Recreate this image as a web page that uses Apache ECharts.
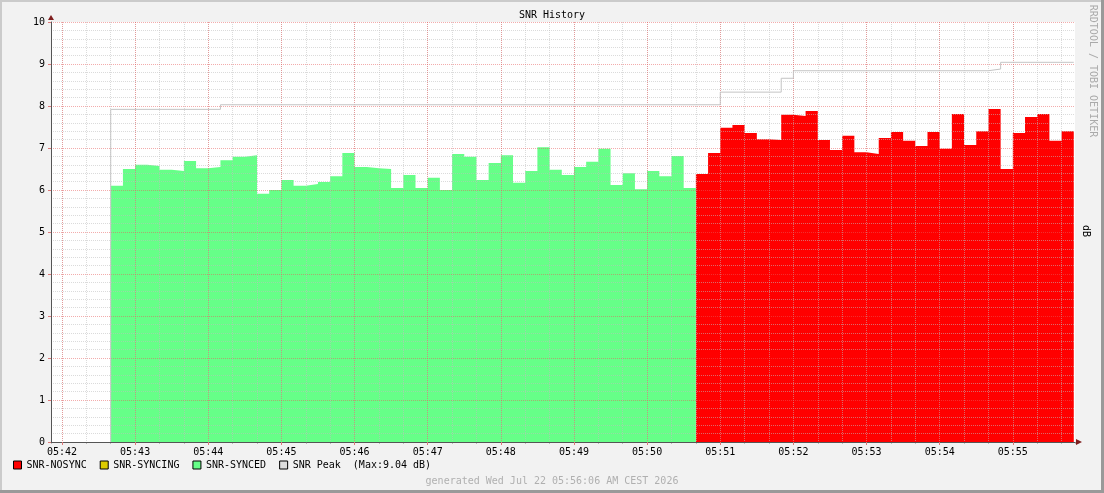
<!DOCTYPE html>
<html>
<head>
<meta charset="utf-8">
<title>SNR History</title>
<script src="https://cdn.jsdelivr.net/npm/echarts@6/dist/echarts.min.js"></script>
<style>
  html, body { margin: 0; padding: 0; background: #f2f2f2; }
  #snr-chart { width: 1104px; height: 493px; }
</style>
</head>
<body>
<div id="snr-chart"></div>
<script>
"use strict";

// seconds after 05:42:00, one sample every 10 s
var firstSample = 40;
var sampleStep = 10;

var syncedValues = [
  6.10, 6.50, 6.60, 6.57, 6.48, 6.45, 6.69, 6.52, 6.55, 6.71,
  6.79, 6.83, 5.91, 6.00, 6.24, 6.10, 6.14, 6.19, 6.33, 6.88,
  6.55, 6.52, 6.50, 6.05, 6.36, 6.05, 6.29, 6.00, 6.86, 6.79,
  6.24, 6.64, 6.83, 6.17, 6.45, 7.02, 6.48, 6.36, 6.55, 6.67,
  6.98, 6.12, 6.40, 6.02, 6.45, 6.33, 6.81, 6.05
];
var syncingValues = [];
var nosyncValues = [
  6.38, 6.88, 7.48, 7.55, 7.36, 7.21, 7.19, 7.79, 7.76, 7.88,
  7.19, 6.95, 7.29, 6.90, 6.86, 7.24, 7.38, 7.17, 7.05, 7.38,
  6.98, 7.81, 7.07, 7.40, 7.93, 6.50, 7.36, 7.74, 7.81, 7.17,
  7.40
];

// peak steps: time it changes (s after 05:42:00) and new level
var peakTimes = [40, 130, 540, 590, 600, 760, 770];
var peakValues = [7.92, 8.03, 8.33, 8.66, 8.84, 8.88, 9.04];

var yTicks = [0, 1, 2, 3, 4, 5, 6, 7, 8, 9, 10];
var startMinute = 42;

var font = 'DejaVu Sans Mono';
var majorGrid = 'rgba(232,90,90,0.5)';
var minorGrid = 'rgba(190,190,190,0.55)';

// build step points, last value is held for one more sample
function stepData(t0, values) {
  var pts = values.map(function (v, i) { return [t0 + i * sampleStep, v]; });
  if (values.length) {
    pts.push([t0 + values.length * sampleStep, values[values.length - 1]]);
  }
  return pts;
}

var syncedStart = firstSample;
var nosyncStart = firstSample + syncedValues.length * sampleStep;
var lastTime = nosyncStart + nosyncValues.length * sampleStep;

var peakData = [[peakTimes[0], 0]];
peakTimes.forEach(function (t, i) { peakData.push([t, peakValues[i]]); });
peakData.push([lastTime, peakValues[peakValues.length - 1]]);
var peakMax = Math.max.apply(null, peakValues);

function pad(n) { return (n < 10 ? '0' : '') + n; }

echarts.init(document.getElementById('snr-chart'))
.setOption({
  animation: false,
  backgroundColor: '#f2f2f2',
  textStyle: {
    fontFamily: font,
    fontSize: 10,
    color: '#000'
  },
  title: {
    text: 'SNR History',
    left: 'center',
    top: 6,
    padding: 4,
    textStyle: {
      fontFamily: font,
      fontSize: 10,
      fontWeight: 'normal',
      color: '#000'
    }
  },
  legend: {
    left: 13,
    top: 460,
    padding: 0,
    icon: 'rect',
    itemWidth: 8,
    itemHeight: 8,
    itemGap: 13,
    textStyle: {
      fontFamily: font,
      fontSize: 10,
      color: '#000'
    },
    formatter: function (name) {
      return name === 'SNR Peak' ? name + '  (Max:' + peakMax.toFixed(2) + ' dB)' : name;
    },
    data: [
      { name: 'SNR-NOSYNC', itemStyle: { color: '#ff0000', borderColor: '#000', borderWidth: 1 } },
      { name: 'SNR-SYNCING', itemStyle: { color: '#ddcc00', borderColor: '#000', borderWidth: 1 } },
      { name: 'SNR-SYNCED', itemStyle: { color: '#66ff88', borderColor: '#000', borderWidth: 1 } },
      { name: 'SNR Peak', itemStyle: { color: '#dddddd', borderColor: '#000', borderWidth: 1 } }
    ]
  },
  grid: {
    left: 51,
    right: 29,
    top: 22,
    bottom: 51,
    show: true,
    backgroundColor: '#ffffff',
    borderWidth: 0
  },
  xAxis: [
    {
      type: 'value',
      min: -9,
      max: 831,
      minInterval: 60,
      maxInterval: 60,
      z: 5,
      axisLine: { onZero: false, lineStyle: { color: '#555', width: 1 } },
      axisTick: { show: true, length: 3, lineStyle: { color: '#d77' } },
      axisLabel: {
        margin: 5,
        showMinLabel: false,
        showMaxLabel: false,
        fontFamily: font,
        fontSize: 10,
        color: '#000',
        formatter: function (v) { return '05:' + pad(startMinute + Math.round(v / 60)); }
      },
      splitLine: {
        show: true,
        showMinLine: false,
        showMaxLine: false,
        lineStyle: { color: majorGrid, type: [1, 1], width: 1 }
      }
    },
    {
      type: 'value',
      position: 'bottom',
      min: -9,
      max: 831,
      minInterval: 20,
      maxInterval: 20,
      z: 4,
      axisLine: { show: false, onZero: false },
      axisTick: { show: true, length: 2, lineStyle: { color: '#bbb' } },
      axisLabel: { show: false },
      splitLine: {
        show: true,
        showMinLine: false,
        showMaxLine: false,
        lineStyle: { color: minorGrid, type: [1, 1], width: 1 }
      }
    }
  ],
  yAxis: {
    type: 'value',
    min: yTicks[0],
    max: yTicks[yTicks.length - 1],
    interval: 1,
    z: 5,
    axisLine: { show: true, onZero: false, lineStyle: { color: '#555', width: 1 } },
    axisTick: { show: true, length: 3, lineStyle: { color: '#d77' } },
    axisLabel: {
      margin: 6,
      fontFamily: font,
      fontSize: 10,
      color: '#000'
    },
    splitLine: {
      show: true,
      lineStyle: { color: majorGrid, type: [1, 1], width: 1 }
    },
    minorTick: { show: false, splitNumber: 5 },
    minorSplitLine: {
      show: true,
      lineStyle: { color: minorGrid, type: [1, 1], width: 1 }
    }
  },
  series: [
    {
      name: 'SNR-NOSYNC',
      type: 'line',
      step: 'end',
      symbol: 'none',
      color: '#ff0000',
      lineStyle: { width: 0 },
      areaStyle: { color: '#ff0000', opacity: 1 },
      data: stepData(nosyncStart, nosyncValues),
      z: 2
    },
    {
      name: 'SNR-SYNCING',
      type: 'line',
      step: 'end',
      symbol: 'none',
      color: '#ddcc00',
      lineStyle: { width: 0 },
      areaStyle: { color: '#ddcc00', opacity: 1 },
      data: stepData(firstSample, syncingValues),
      z: 2
    },
    {
      name: 'SNR-SYNCED',
      type: 'line',
      step: 'end',
      symbol: 'none',
      color: '#66ff88',
      lineStyle: { width: 0 },
      areaStyle: { color: '#66ff88', opacity: 1 },
      data: stepData(syncedStart, syncedValues),
      z: 2
    },
    {
      name: 'SNR Peak',
      type: 'line',
      step: 'end',
      symbol: 'none',
      color: '#c4c4c4',
      lineStyle: { width: 1, color: '#c4c4c4' },
      data: peakData,
      z: 6
    }
  ],
  graphic: [
    // frame shading
    { type: 'rect', shape: { x: 0, y: 0, width: 1104, height: 2 }, style: { fill: '#cbcbcb' }, silent: true },
    { type: 'rect', shape: { x: 0, y: 0, width: 2, height: 493 }, style: { fill: '#cbcbcb' }, silent: true },
    { type: 'rect', shape: { x: 0, y: 490, width: 1104, height: 3 }, style: { fill: '#999999' }, silent: true },
    { type: 'rect', shape: { x: 1101, y: 0, width: 3, height: 493 }, style: { fill: '#999999' }, silent: true },
    // axis arrows
    { type: 'polygon', shape: { points: [[48, 20], [54, 20], [51, 15]] }, style: { fill: '#7f1f1f' }, z: 10 },
    { type: 'polygon', shape: { points: [[1076, 439], [1076, 445], [1082, 442]] }, style: { fill: '#7f1f1f' }, z: 10 },
    {
      type: 'text',
      x: 1093, y: 71,
      rotation: -Math.PI / 2,
      style: {
        text: 'RRDTOOL / TOBI OETIKER',
        fill: '#aaaaaa',
        font: '10px "DejaVu Sans Mono"',
        align: 'center',
        verticalAlign: 'middle'
      }
    },
    {
      type: 'text',
      x: 1086, y: 231,
      rotation: -Math.PI / 2,
      style: {
        text: 'dB',
        fill: '#000',
        font: '10px "DejaVu Sans Mono"',
        align: 'center',
        verticalAlign: 'middle'
      }
    },
    {
      type: 'text',
      x: 552, y: 481,
      style: {
        text: 'generated Wed Jul 22 05:56:06 AM CEST 2026',
        fill: '#b0b0b0',
        font: '10px "DejaVu Sans Mono"',
        align: 'center',
        verticalAlign: 'middle'
      }
    }
  ]
});
</script>
</body>
</html>
